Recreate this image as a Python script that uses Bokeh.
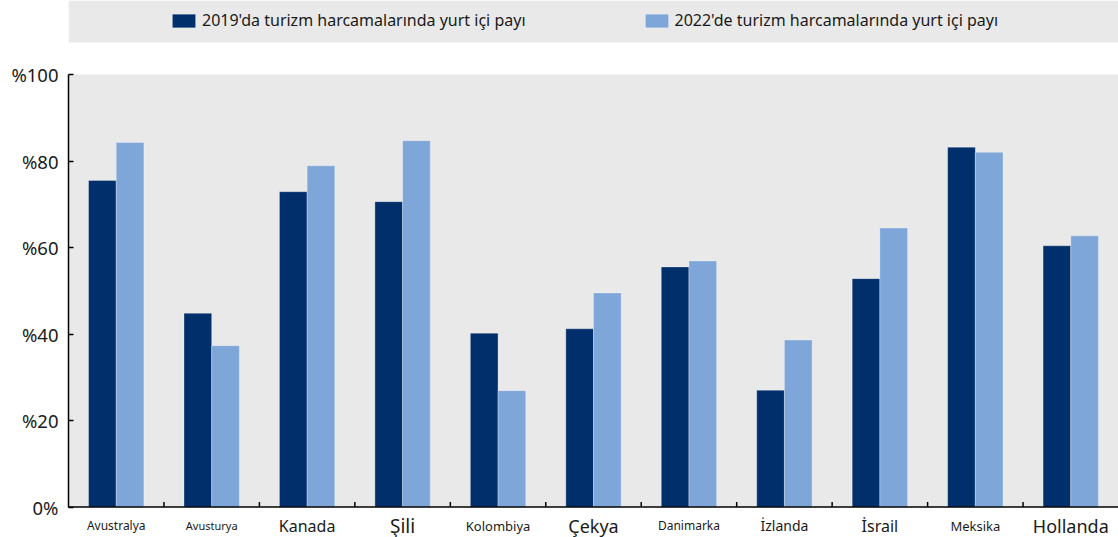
import numpy as np
from bokeh.plotting import figure
from bokeh.models import (Range1d, LinearAxis, FixedTicker, ColumnDataSource,
                          BoxAnnotation, Span)
from bokeh.core.properties import value
from bokeh.transform import dodge
from bokeh.embed import file_html
from bokeh.resources import INLINE

# ---- data ----
categories = ["Avustralya", "Avusturya", "Kanada", "Şili", "Kolombiya", "Çekya",
              "Danimarka", "İzlanda", "İsrail", "Meksika", "Hollanda"]
share_2019 = [75.5, 44.8, 72.9, 70.6, 40.2, 41.2, 55.5, 27.0, 52.8, 83.2, 60.4]
share_2022 = [84.3, 37.3, 78.9, 84.7, 26.9, 49.5, 56.9, 38.6, 64.5, 82.0, 62.7]
series_names = ["2019'da turizm harcamalarında yurt içi payı",
                "2022'de turizm harcamalarında yurt içi payı"]
y_ticks = [0, 20, 40, 60, 80, 100]
y_tick_labels = ["0%", "%20", "%40", "%60", "%80", "%100"]

# ---- styles ----
colors = ["#002F6C", "#7FA6D9"]
label_sizes = ["12px", "11px", "16px", "19px", "13px", "18px",
               "12px", "14px", "16px", "13px", "18px"]
FONT = "Noto Sans"
BG = "#e9e9e9"
TXT = "#1a1a1a"

W, H = 1118, 537
LEFT = 68
PX_PER_UNIT = 4.325          # vertical scale of the value axis (px per %)
ZERO_FROM_TOP = 506.5        # pixel row of 0% inside the canvas
BAND_H = 42
y_top = ZERO_FROM_TOP / PX_PER_UNIT
y_bot = -(H - ZERO_FROM_TOP) / PX_PER_UNIT
band_bottom = (ZERO_FROM_TOP - BAND_H) / PX_PER_UNIT
label_y = -(525 - ZERO_FROM_TOP) / PX_PER_UNIT

n = len(categories)
pos = np.arange(n) + 0.5
src = ColumnDataSource(dict(x=pos, a=share_2019, b=share_2022,
                            cat=categories, fs=label_sizes))

p = figure(width=W, height=H, x_range=Range1d(0, n), y_range=Range1d(y_bot, y_top),
           output_backend="svg", toolbar_location=None,
           min_border_left=LEFT, min_border_right=0, min_border_top=0,
           min_border_bottom=0, x_axis_type=None, y_axis_type=None)
p.background_fill_color = "white"
p.border_fill_color = "white"
p.outline_line_color = None
p.xgrid.visible = False
p.ygrid.visible = False

# grey plot area and legend band
p.add_layout(BoxAnnotation(left=0, right=n, bottom=0, top=100, fill_color=BG,
                           fill_alpha=1, line_color=None, level="underlay"))
p.add_layout(BoxAnnotation(bottom=band_bottom, fill_color=BG, fill_alpha=1,
                           line_color=None, level="underlay"))

p.vbar(x=dodge("x", -0.145), top="a", width=0.29, source=src,
       fill_color=colors[0], line_color="white", line_alpha=0.3, line_width=1,
       legend_label=series_names[0])
p.vbar(x=dodge("x", 0.145), top="b", width=0.29, source=src,
       fill_color=colors[1], line_color="white", line_alpha=0.3, line_width=1,
       legend_label=series_names[1])

# x axis line and inward ticks at category boundaries
p.add_layout(Span(location=0, dimension="width", line_color="black", line_width=1.5))
edges = np.arange(1, n)
p.segment(x0=edges, y0=np.zeros(n - 1), x1=edges,
          y1=np.full(n - 1, 5 / PX_PER_UNIT), line_color="black", line_width=1.5)

# category labels
p.text(x="x", y=label_y, text="cat", source=src, text_align="center",
       text_baseline="alphabetic", text_font=value(FONT),
       text_font_size="fs", text_color=TXT)

yax = LinearAxis(ticker=FixedTicker(ticks=y_ticks), bounds=(0, 100),
                 major_label_overrides={t: l for t, l in zip(y_ticks, y_tick_labels)},
                 major_tick_in=5, major_tick_out=0, minor_tick_line_color=None,
                 axis_line_color="black", axis_line_width=1.5,
                 major_tick_line_color="black", major_tick_line_width=1.5,
                 major_label_standoff=10, major_label_text_font=FONT,
                 major_label_text_font_size="18.5px", major_label_text_color=TXT)
p.add_layout(yax, "left")

lg = p.legend[0]
lg.location = (101, H - 31)
lg.orientation = "horizontal"
lg.glyph_width = 29
lg.glyph_height = 17
lg.label_standoff = 4
lg.spacing = 116
lg.padding = 0
lg.margin = 0
lg.background_fill_alpha = 0
lg.border_line_color = None
lg.label_text_font = FONT
lg.label_text_font_size = "16px"
lg.label_text_color = TXT

open("out.html", "w").write(file_html(p, INLINE))
